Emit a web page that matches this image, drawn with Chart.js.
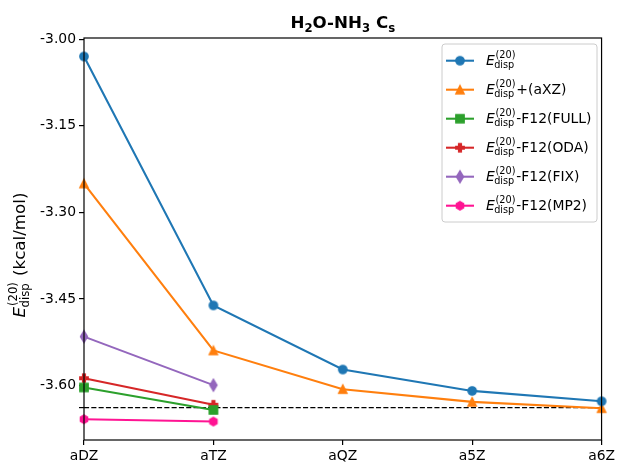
<!DOCTYPE html>
<html><head><meta charset="utf-8">
<script src="https://cdn.jsdelivr.net/npm/chart.js@4"></script>
<style>html,body{margin:0;padding:0;background:#fff}#wrap{width:618px;height:463px}</style>
</head><body><div id="wrap"><canvas id="c" width="618" height="463"></canvas></div>
<script>
// ---- data ----
const categories = ['aDZ', 'aTZ', 'aQZ', 'a5Z', 'a6Z'];
const dispBase = [-3.030, -3.461, -3.572, -3.609, -3.627];
const dispAXZ  = [-3.250, -3.539, -3.606, -3.628, -3.639];
const f12Full  = [-3.603, -3.642, null, null, null];
const f12ODA   = [-3.587, -3.633, null, null, null];
const f12FIX   = [-3.515, -3.599, null, null, null];
const f12MP2   = [-3.658, -3.662, null, null, null];
const referenceValue = -3.638;
const yTickValues = [-3.00, -3.15, -3.30, -3.45, -3.60];
const legendSuffixes = ['', '+(aXZ)', '-F12(FULL)', '-F12(ODA)', '-F12(FIX)', '-F12(MP2)'];
const seriesColors = ['#1f77b4', '#ff7f0e', '#2ca02c', '#d62728', '#9467bd', '#ff1493'];
const seriesShapes = ['circle', 'triangle', 'square', 'plus', 'thindiamond', 'hexagon'];

const FONT = '"DejaVu Sans", "Liberation Sans", sans-serif';
const MS = 8.33; // marker size px

function markerPath(ctx, shape, c) {
  const h = MS / 2;
  ctx.beginPath();
  if (shape === 'circle') {
    ctx.arc(c, c, h, 0, Math.PI * 2);
  } else if (shape === 'triangle') {
    ctx.moveTo(c, c - h); ctx.lineTo(c - h, c + h); ctx.lineTo(c + h, c + h); ctx.closePath();
  } else if (shape === 'square') {
    ctx.rect(c - h, c - h, 2 * h, 2 * h);
  } else if (shape === 'plus') {
    const a = h / 3;
    const pts = [[-a,-h],[a,-h],[a,-a],[h,-a],[h,a],[a,a],[a,h],[-a,h],[-a,a],[-h,a],[-h,-a],[-a,-a]];
    pts.forEach((p, i) => i ? ctx.lineTo(c + p[0], c + p[1]) : ctx.moveTo(c + p[0], c + p[1]));
    ctx.closePath();
  } else if (shape === 'thindiamond') {
    const vy = MS * 0.7071, vx = vy * 0.6;
    ctx.moveTo(c, c - vy); ctx.lineTo(c + vx, c); ctx.lineTo(c, c + vy); ctx.lineTo(c - vx, c); ctx.closePath();
  } else if (shape === 'hexagon') {
    for (let i = 0; i < 6; i++) {
      const ang = -Math.PI / 2 + i * Math.PI / 3;
      const px = c + h * Math.cos(ang), py = c + h * Math.sin(ang);
      i ? ctx.lineTo(px, py) : ctx.moveTo(px, py);
    }
    ctx.closePath();
  }
}
function makeMarker(shape, color) {
  const cv = document.createElement('canvas');
  cv.width = 18; cv.height = 18;
  const ctx = cv.getContext('2d');
  markerPath(ctx, shape, 9);
  ctx.fillStyle = color; ctx.fill();
  ctx.strokeStyle = color; ctx.lineWidth = 1.39; ctx.lineJoin = 'miter'; ctx.stroke();
  return cv;
}
const markerImgs = seriesShapes.map((s, i) => makeMarker(s, seriesColors[i]));

const seriesData = [dispBase, dispAXZ, f12Full, f12ODA, f12FIX, f12MP2];
const datasets = seriesData.map((d, i) => ({
  data: d,
  borderColor: seriesColors[i],
  backgroundColor: seriesColors[i],
  borderWidth: 2.08,
  pointStyle: markerImgs[i],
  pointRadius: 5,
  tension: 0,
  clip: false,
  spanGaps: false
}));
datasets.push({
  data: categories.map(() => referenceValue),
  borderColor: '#000',
  borderWidth: 1.2,
  borderDash: [5.1, 2.2],
  pointRadius: 0,
  clip: false
});

// draw E^{(20)}_{disp} starting at x, baseline y; returns end x
function drawEsym(ctx, x, y, size) {
  ctx.textAlign = 'left'; ctx.textBaseline = 'alphabetic'; ctx.fillStyle = '#000';
  ctx.font = 'italic ' + size + 'px ' + FONT;
  ctx.fillText('E', x, y);
  const wE = ctx.measureText('E').width;
  const ss = size * 0.7;
  ctx.font = ss + 'px ' + FONT;
  ctx.fillText('(20)', x + wE + 0.8, y - size * 0.45);
  const wSup = ctx.measureText('(20)').width;
  ctx.fillText('disp', x + wE - 0.6, y + size * 0.22);
  const wSub = ctx.measureText('disp').width;
  return x + wE + Math.max(wSup + 0.8, wSub - 0.6) + 0.8;
}
function esymWidth(ctx, size) {
  ctx.font = 'italic ' + size + 'px ' + FONT;
  const wE = ctx.measureText('E').width;
  ctx.font = (size * 0.7) + 'px ' + FONT;
  return wE + Math.max(ctx.measureText('(20)').width + 0.8, ctx.measureText('disp').width - 0.6) + 0.8;
}

const decorPlugin = {
  id: 'decor',
  afterDatasetsDraw(chart) {
    const ctx = chart.ctx, a = chart.chartArea;
    ctx.save();
    // spines
    ctx.strokeStyle = '#000'; ctx.lineWidth = 1.2;
    ctx.strokeRect(a.left, a.top, a.right - a.left, a.bottom - a.top);

    // title
    const tSize = 16.7, sSize = 16.7 * 0.7;
    const parts = [['H', 0], ['2', 1], ['O-NH', 0], ['3', 1], [' C', 0], ['s', 1]];
    let tw = 0;
    parts.forEach(p => { ctx.font = 'bold ' + (p[1] ? sSize : tSize) + 'px ' + FONT; tw += ctx.measureText(p[0]).width; });
    let tx = (a.left + a.right) / 2 - tw / 2;
    ctx.fillStyle = '#000'; ctx.textAlign = 'left'; ctx.textBaseline = 'alphabetic';
    parts.forEach(p => {
      ctx.font = 'bold ' + (p[1] ? sSize : tSize) + 'px ' + FONT;
      ctx.fillText(p[0], tx, 28 + (p[1] ? 3.5 : 0));
      tx += ctx.measureText(p[0]).width;
    });

    // y-axis label
    const lSize = 16.7;
    ctx.font = lSize + 'px ' + FONT;
    const rest = ' (kcal/mol)';
    const totalW = esymWidth(ctx, lSize) + (ctx.font = lSize + 'px ' + FONT, ctx.measureText(rest).width);
    ctx.save();
    ctx.translate(25, 255);
    ctx.rotate(-Math.PI / 2);
    let ex = drawEsym(ctx, -totalW / 2, 0, lSize);
    ctx.font = lSize + 'px ' + FONT;
    ctx.fillText(rest, ex, 0);
    ctx.restore();

    // legend
    const bx = 442, by = 44, bw = 155, bh = 178, r = 3;
    ctx.beginPath();
    ctx.moveTo(bx + r, by); ctx.lineTo(bx + bw - r, by); ctx.quadraticCurveTo(bx + bw, by, bx + bw, by + r);
    ctx.lineTo(bx + bw, by + bh - r); ctx.quadraticCurveTo(bx + bw, by + bh, bx + bw - r, by + bh);
    ctx.lineTo(bx + r, by + bh); ctx.quadraticCurveTo(bx, by + bh, bx, by + bh - r);
    ctx.lineTo(bx, by + r); ctx.quadraticCurveTo(bx, by, bx + r, by); ctx.closePath();
    ctx.fillStyle = 'rgba(255,255,255,0.8)'; ctx.fill();
    ctx.strokeStyle = '#cccccc'; ctx.lineWidth = 1; ctx.stroke();
    legendSuffixes.forEach((suf, i) => {
      const cy = 60.7 + i * 29;
      ctx.strokeStyle = seriesColors[i]; ctx.lineWidth = 2.08; ctx.setLineDash([]);
      ctx.beginPath(); ctx.moveTo(446, cy); ctx.lineTo(474, cy); ctx.stroke();
      const img = markerImgs[i];
      ctx.drawImage(img, 460 - img.width / 2, cy - img.height / 2);
      const x2 = drawEsym(ctx, 486, cy + 4, 13.9);
      ctx.font = '13.9px ' + FONT; ctx.fillStyle = '#000';
      ctx.fillText(suf, x2, cy + 4);
    });
    ctx.restore();
  }
};

new Chart(document.getElementById('c'), {
  type: 'line',
  data: { labels: categories, datasets: datasets },
  options: {
    responsive: false, animation: false, devicePixelRatio: 1,
    layout: { padding: { top: 38, right: 15, left: 0, bottom: 0 } },
    plugins: { legend: { display: false }, title: { display: false }, tooltip: { enabled: false } },
    scales: {
      x: {
        type: 'category', offset: false,
        grid: { display: true, drawOnChartArea: false, drawTicks: true, tickLength: 5, color: '#000', lineWidth: 1.2 },
        border: { display: false },
        ticks: { color: '#000', font: { family: FONT, size: 13.9 }, padding: 3, maxRotation: 0, autoSkip: false },
        afterFit(s) { s.height = 23; }
      },
      y: {
        min: -3.694, max: -2.998,
        grid: { display: true, drawOnChartArea: false, drawTicks: true, tickLength: 5, color: '#000', lineWidth: 1.2 },
        border: { display: false },
        afterBuildTicks(s) { s.ticks = yTickValues.concat([referenceValue]).map(v => ({ value: v })); },
        ticks: {
          color: '#000', font: { family: FONT, size: 13.9 }, padding: 3, autoSkip: false,
          callback: (v) => yTickValues.some(t => Math.abs(t - v) < 1e-9) ? Number(v).toFixed(2) : ''
        },
        afterFit(s) { s.width = 84; }
      }
    }
  },
  plugins: [decorPlugin]
});
</script>
</body></html>
